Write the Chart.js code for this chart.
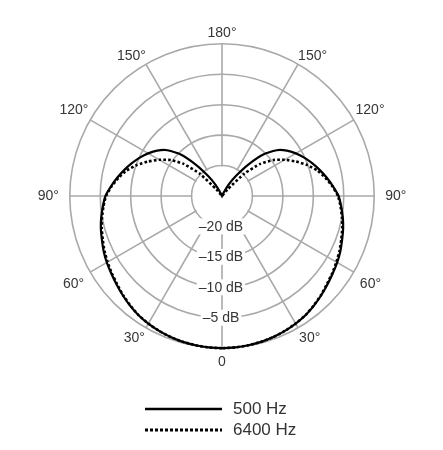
<!DOCTYPE html>
<html><head><meta charset="utf-8">
<style>
html,body{margin:0;padding:0;background:#fff;}
#wrap{position:relative;width:443px;height:450px;overflow:hidden;}
#legend{position:absolute;left:145px;top:398px;font:17px "Liberation Sans",Arial,sans-serif;color:#333;}
.item{display:flex;align-items:center;height:21px;white-space:nowrap;}
.item svg{width:77px;height:6px;margin-right:11px;display:block;}
</style>
<script src="https://cdn.jsdelivr.net/npm/chart.js@4.4.1/dist/chart.umd.min.js"></script>
</head><body>
<div id="wrap"><canvas id="c" width="443" height="450"></canvas><div id="legend"></div></div>
<script>
// Angles (degrees, 0 = front/bottom)
const angles = [0,5,10,15,20,25,30,35,40,45,50,55,60,65,70,75,80,85,90,95,100,105,110,115,120,125,130,135,140,145,150,155,160,165,170,175,
  180,185,190,195,200,205,210,215,220,225,230,235,240,245,250,255,260,265,270,275,280,285,290,295,300,305,310,315,320,325,330,335,340,345,350,355];

const seriesNames = ['500 Hz', '6400 Hz'];

// 500 Hz response (dB)
const hz500 = [0,-0.03,-0.1,-0.2,-0.35,-0.55,-0.8,-1.1,-1.5,-1.95,-2.4,-2.8,-3.15,-3.55,-4.0,-4.4,-4.85,-5.35,-5.85,-6.7,-7.55,-8.4,-9.25,-10.1,-11.0,-12.0,-13.3,-15.3,-18.2,-20.9,-22.9,-24.6,-25,-25,-25,-25,
  -25,-25,-25,-25,-25,-24.6,-22.9,-20.9,-18.2,-15.3,-13.3,-12.0,-11.0,-10.1,-9.25,-8.4,-7.55,-6.7,-5.85,-5.35,-4.85,-4.4,-4.0,-3.55,-3.15,-2.8,-2.4,-1.95,-1.5,-1.1,-0.8,-0.55,-0.35,-0.2,-0.1,-0.03];

// 6400 Hz response (dB)
const hz6400 = [0,-0.03,-0.1,-0.2,-0.35,-0.55,-0.8,-1.1,-1.55,-2.0,-2.5,-2.9,-3.3,-3.7,-4.15,-4.55,-5.0,-5.45,-5.95,-6.8,-7.75,-8.8,-10.1,-11.6,-13.1,-14.7,-16.8,-19.8,-23.6,-25,-25,-25,-25,-25,-25,-25,
  -25,-25,-25,-25,-25,-25,-25,-25,-23.6,-19.8,-16.8,-14.7,-13.1,-11.6,-10.1,-8.8,-7.75,-6.8,-5.95,-5.45,-5.0,-4.55,-4.15,-3.7,-3.3,-2.9,-2.5,-2.0,-1.55,-1.1,-0.8,-0.55,-0.35,-0.2,-0.1,-0.03];

// Spoke labels every 30°
const spokeLabels = ['0','30°','60°','90°','120°','150°','180°','150°','120°','90°','60°','30°'];
// dB ring labels
const dbTickValues = [-20, -15, -10, -5];
const dbTickLabels = ['–20 dB', '–15 dB', '–10 dB', '–5 dB'];

const spokePad = [6,2,7,11,2,0,2,0,2,11,7,2];
const FONT = '"Liberation Sans", Arial, sans-serif';
const GRID = '#a9a9a9';
const TEXT = '#363636';

const ringPlugin = {
  id: 'ringPlugin',
  beforeDatasetsDraw(chart) {
    const s = chart.scales.r, ctx = chart.ctx;
    ctx.save();
    ctx.beginPath();
    ctx.arc(s.xCenter, s.yCenter, s.getDistanceFromCenterForValue(dbTickValues[0]) - 1, 0, Math.PI * 2);
    ctx.fillStyle = '#fff';
    ctx.fill();
    ctx.restore();
  },
  afterDatasetsDraw(chart) {
    const s = chart.scales.r, ctx = chart.ctx;
    ctx.save();
    ctx.font = '14px ' + FONT;
    ctx.textAlign = 'center';
    ctx.textBaseline = 'middle';
    dbTickValues.forEach((v, i) => {
      const x = s.xCenter - 1;
      const y = s.yCenter + s.getDistanceFromCenterForValue(v);
      const w = ctx.measureText(dbTickLabels[i]).width;
      ctx.fillStyle = '#fff';
      ctx.fillRect(x - w / 2 - 2, y - 8, w + 4, 16);
      ctx.fillStyle = TEXT;
      ctx.fillText(dbTickLabels[i], x, y + 0.5);
    });
    ctx.restore();
  }
};

const styles = [
  {borderColor: '#000', borderWidth: 2.2, borderDash: []},
  {borderColor: '#000', borderWidth: 2.6, borderDash: [2.6, 2.2]}
];
const series = [hz500, hz6400];

new Chart(document.getElementById('c'), {
  type: 'radar',
  data: {
    labels: angles,
    datasets: series.map((d, i) => ({
      label: seriesNames[i],
      data: d,
      borderColor: styles[i].borderColor,
      borderWidth: styles[i].borderWidth,
      borderDash: styles[i].borderDash,
      borderCapStyle: 'butt',
      fill: false,
      pointRadius: 0,
      pointHoverRadius: 0,
      tension: 0.15
    }))
  },
  options: {
    responsive: false,
    animation: false,
    layout: {padding: {top: 24, bottom: 76, left: 1, right: 0}},
    plugins: {legend: {display: false}, tooltip: {enabled: false}},
    scales: {
      r: {
        min: -25, max: 0,
        startAngle: 180,
        ticks: {display: false, stepSize: 5},
        grid: {circular: true, color: GRID, lineWidth: 1.6},
        angleLines: {
          color: (ctx) => (angles[ctx.index] % 30 === 0 ? GRID : 'rgba(0,0,0,0)'),
          lineWidth: (ctx) => (angles[ctx.index] % 30 === 0 ? 1.6 : 0)
        },
        pointLabels: {
          callback: (label, index) => (angles[index] % 30 === 0 ? spokeLabels[angles[index] / 30] : ''),
          font: {size: 14, family: FONT},
          color: TEXT,
          padding: (ctx) => (angles[ctx.index] % 30 === 0 ? spokePad[angles[ctx.index] / 30] : 0)
        }
      }
    }
  },
  plugins: [ringPlugin]
});

// Legend (HTML, built from datasets)
const legend = document.getElementById('legend');
seriesNames.forEach((name, i) => {
  const st = styles[i];
  const dash = st.borderDash.length ? ' stroke-dasharray="3 2"' : '';
  const item = document.createElement('div');
  item.className = 'item';
  item.innerHTML = '<svg viewBox="0 0 77 6"><line x1="0" y1="3" x2="77" y2="3" stroke="#000" stroke-width="' + (i === 0 ? 2.7 : 3) + '"' + dash + '/></svg><span>' + name + '</span>';
  legend.appendChild(item);
});
</script>
</body></html>
